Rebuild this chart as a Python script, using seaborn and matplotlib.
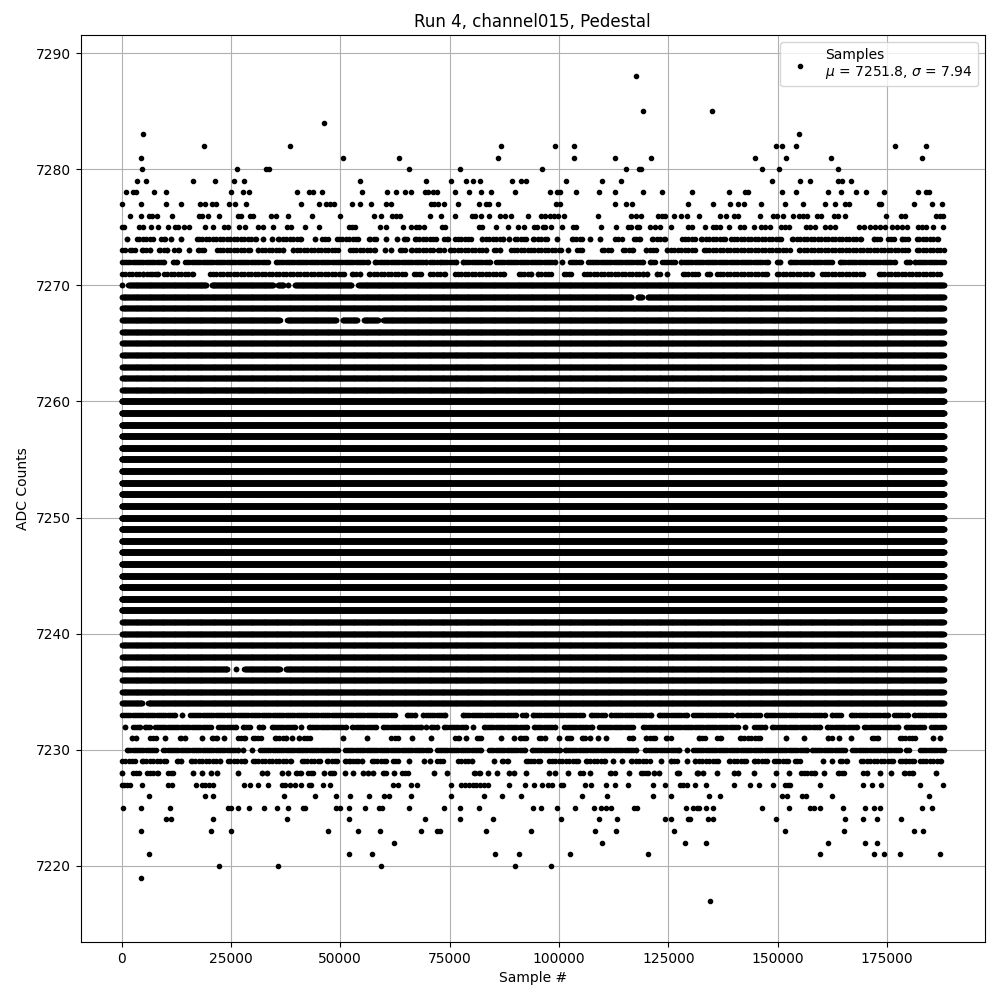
import numpy as np
import pandas as pd
import matplotlib
matplotlib.use("Agg")
import matplotlib.pyplot as plt
import seaborn as sns

# sparse levels: sample numbers in thousands, read point by point
hits_7217 = [134.6]
hits_7219 = [4.5]
hits_7220 = [22.3, 35.8, 59.4, 90, 98.2]
hits_7221 = [6.3, 52, 57.3, 85.4, 90.9, 102.6, 120.4, 159.6, 172.1, 174.2, 177.9, 187]
hits_7222 = [62.3, 109.9, 128.9, 133.7, 161.6, 169.9, 172.6]
hits_7223 = [4.5, 20.5, 25.1, 47.2, 54.1, 59.1, 68.5, 72.2, 72.8, 83.4, 93.7, 108.3, 113.1, 126.4,
             151.6, 165.1, 181.1, 183.3]
hits_7224 = [10.1, 11.4, 21, 37.9, 52, 69.4, 77.4, 85, 100.5, 109.2, 113.3, 124.3, 125.7, 129.6,
             130, 134, 135.3, 149.7, 165.3, 169.4, 172.8, 178.3]
hits_7225 = [0.4, 4.5, 11.1, 24.4, 24.9, 26.7, 29.2, 32.6, 35.6, 38.1, 41.5, 42, 49.1, 50, 52, 55.7,
             58.9, 59.6, 65.6, 73.8, 77.4, 81.6, 94.1, 96, 99.6, 103.7, 108, 109.7, 110.8, 112,
             117.2, 117.9, 129.1, 130.7, 131.6, 131.9, 133.7, 135.3, 146.5, 152.5, 157.3, 158.2,
             159.6, 164.9, 169.9, 172.1, 173.3, 183.1, 185.2]
hits_7226 = [6.3, 19.1, 21, 37.2, 44.3, 49.1, 52.3, 56.6, 60, 61.2, 66.2, 75.4, 82.9, 87, 91.4, 105.3,
             111, 121.6, 125.7, 134.2, 136.7, 151.1, 152.1, 155.5, 156.4, 162.5, 184.5]
hits_7227 = [0, 0.6, 1.2, 1.9, 4.7, 10.7, 11.6, 17.1, 18.4, 19.1, 20, 21, 28, 29.4, 31.2, 33.5, 36.6,
             37.4, 38.5, 39.6, 41.1, 42.8, 43.4, 46.1, 47.7, 62.1, 63.2, 66.2, 67.6, 75.2, 77.7, 78.6,
             79.5, 80.3, 81.1, 82, 82.9, 83.8, 88.5, 92.3, 94.4, 96.2, 97.6, 98.5, 100.5, 101, 106,
             107.4, 110.8, 112.9, 115.7, 121.6, 124.2, 127.7, 128.4, 129.2, 131.2, 133.7, 139.9,
             143.6, 145.8, 149, 151.7, 152.3, 152.9, 159.7, 169.6, 171.5, 173.7, 182.6, 187.7]
hits_7275 = [0, 0.6, 4, 5, 6.8, 8.4, 10.7, 12.2, 13, 14.3, 15.5, 19.1, 21, 23.5, 24.4, 26.9, 28.3, 31.2,
             32.4, 34.7, 37.9, 38.8, 42, 45.2, 52, 52.7, 53.4, 59.1, 60.5, 64.4, 66.2, 67.2, 68.1,
             69.1, 73.3, 74, 81.6, 82.5, 85.7, 88.4, 90.7, 92.1, 94.4, 95, 96.4, 96.9, 98.2, 100.8,
             103.3, 104, 109.7, 113.1, 115.8, 116.5, 117.9, 118.4, 120.9, 122, 123.2, 125.7, 129.6,
             130.5, 133.3, 135.3, 136, 136.9, 138.8, 141.4, 142.2, 144.5, 146.2, 147.1, 148.3, 150.7,
             151.7, 152.7, 156.5, 157.4, 158.6, 160.9, 161.9, 163, 168.7, 169.8, 171.1, 172.3, 173.4,
             174.6, 176.1, 177.2, 178.4, 179.5, 182, 183, 184, 185.6, 187.7]
hits_7276 = [2, 4.5, 6.3, 7, 8.2, 11.6, 17.8, 18.4, 19.8, 22.3, 26.7, 27.4, 29.4, 30.1, 34.2, 35.4, 38.1,
             43.6, 50, 57.8, 59.4, 61.9, 62.8, 63.6, 70.4, 73.1, 76.3, 80, 80.9, 82.2, 84, 86.4, 87.7,
             89.1, 93, 96, 96.9, 98, 98.9, 99.7, 101.2, 109, 116.5, 117.5, 118.8, 122.7, 123.6, 124.3,
             126.3, 128, 129.3, 132.1, 136.9, 138.1, 140.1, 141, 145.9, 149, 149.8, 151.3, 153.6, 154.8,
             155.9, 156.8, 159, 159.9, 162.8, 163.9, 165.3, 174.7, 178.1, 179, 186.1, 187, 187.9]
hits_7277 = [0.2, 4.5, 10.2, 13.6, 18, 19.1, 20.7, 21.6, 24.6, 26, 28.5, 41.1, 45.2, 46.8, 47.7, 48.6,
             52.7, 54.6, 57.1, 60.4, 61.7, 70.8, 71.5, 72.4, 73.6, 76.8, 81.6, 83.2, 83.9, 86.1, 99.4,
             100.2, 112.9, 115.4, 116.8, 129.6, 135.1, 139, 141, 142.2, 146.1, 151.6, 155.7, 160.9,
             163.2, 165.5, 166.2, 173.1, 173.7, 181.1, 185.2, 187.5]
hits_7278 = [1.1, 2.7, 3.4, 7.5, 10.2, 25.1, 27.8, 29.2, 40.2, 42.9, 43.8, 45.9, 55, 60.7, 62.8, 64.9, 66.2,
             69.4, 70.1, 71.3, 72, 76.3, 79.5, 82.2, 84.5, 90, 98, 99.6, 100.3, 104, 109.2, 112.9, 119.3,
             123.6, 130.5, 138.8, 142.6, 143.3, 151.1, 154.1, 161.4, 164.4, 168, 170.1, 174.4, 182,
             183.8, 184.5]
hits_7279 = [3.6, 5.6, 16.4, 21.4, 25.8, 28, 54.6, 69.7, 75.4, 78.8, 80.4, 82, 89.3, 91.2, 92.5, 101.7,
             109.9, 114.2, 148.8, 155.2, 157.5, 163.9, 164.8, 166.7]
hits_7280 = [4.7, 26.4, 32.9, 33.7, 65.6, 77.4, 96.2, 115.4, 118.4, 118.8, 146.5, 150.2, 163.9]
hits_7281 = [4.5, 50.7, 63.4, 86.1, 103.5, 112.9, 121.1, 144.7, 152, 162.1, 183.1]
hits_7282 = [18.9, 38.6, 86.8, 99.2, 103.5, 149.7, 151.1, 154.3, 176.9, 184]
hits_7283 = [4.95, 154.8]
hits_7284 = [46.3]
hits_7285 = [119.3, 134.9]
hits_7288 = [117.7]

runs_7228 = [(0.2, 0.2), (2.7, 4), (5.3, 8.8), (10.7, 11.8), (16.4, 16.4), (18.4, 18.4), (20.5, 20.5), (21.9, 21.9),
             (26.7, 26.7), (32.2, 32.2), (33.3, 33.3), (36.7, 36.7), (38.1, 38.1), (39.8, 41), (42.7, 43.8),
             (46.3, 46.3), (47.6, 48.6), (51.1, 51.1), (53, 53), (55.2, 55.2), (56.4, 56.4), (57.5, 57.5),
             (59.8, 60.4), (62.3, 62.3), (63.6, 65.9), (71.5, 71.5), (74.5, 74.5), (80.6, 81.9), (83.7, 83.7),
             (85.9, 85.9), (88.6, 88.6), (89.8, 89.8), (92.5, 92.5), (97.8, 97.8), (99.2, 99.2), (102.1, 102.1),
             (104.8, 105.6), (107.2, 107.2), (111.3, 113.2), (115.9, 115.9), (118.4, 120.8), (121.8, 121.8),
             (122.9, 122.9), (126.9, 127.5), (131.6, 131.6), (131.7, 131.7), (133, 133), (136.2, 136.2),
             (139.9, 139.9), (141, 141), (144.5, 144.5), (149.7, 149.7), (152.5, 152.5), (154.8, 159),
             (160.6, 160.6), (163.9, 165.2), (169.6, 170.5), (173.5, 173.5), (175.8, 175.8), (178.4, 181.3),
             (186.3, 186.3)]
runs_7229 = [(0, 3.4), (4.3, 10.7), (12.2, 14.1), (15.5, 22.9), (23.9, 28.6), (29.7, 39.2), (40.8, 45.7), (46.5, 49.8),
             (51.1, 52.2), (53, 54.1), (54.9, 54.9), (56.9, 61), (61.7, 63.6), (65.6, 65.6), (69.2, 69.2),
             (70.6, 70.6), (72.2, 73.4), (76.5, 80.6), (85.2, 85.2), (87, 88.4), (92, 96), (97.3, 104.8),
             (105.7, 110.9), (112.4, 112.4), (114.5, 114.5), (116.1, 121.2), (123.4, 123.4), (125.1, 127.5),
             (129.3, 129.3), (130.7, 136.9), (138.4, 143.1), (144.1, 147.9), (148.7, 152.9), (154, 155.1),
             (160.3, 160.3), (162.5, 162.5), (164.3, 165.8), (168.5, 176.9), (177.9, 179.4), (180.1, 181.2),
             (182.2, 187.9)]
runs_7230 = [(0.8, 8.4), (9.1, 27.1), (27.8, 27.8), (29.9, 29.9), (31.2, 49.9), (50.7, 70.9), (71.6, 82.7), (83.6, 92.6),
             (93.4, 100.6), (101, 118.1), (119.1, 128), (129.3, 129.3), (130.3, 157.1), (157.4, 165.8),
             (166.6, 178.4), (178.8, 180.4), (182.2, 188)]
runs_7231 = [(1.9, 3.8), (6.1, 8.4), (9.9, 9.9), (13, 15), (18.3, 18.3), (20.6, 21.7), (23.5, 23.5), (26.7, 28.2),
             (29.7, 32.4), (34.7, 38.1), (39, 39), (40.6, 40.6), (41.7, 43.1), (50.7, 50.7), (56.2, 56.2),
             (61.7, 63.2), (66.5, 66.5), (70.8, 70.8), (76.2, 77.2), (78.8, 78.8), (81.3, 82.2), (86.8, 86.8),
             (89.6, 89.6), (91.1, 92.5), (95.5, 96.9), (100, 100), (101.4, 103.3), (105.3, 106), (107.2, 107.2),
             (109, 109), (110.8, 110.8), (116.1, 117), (119.5, 122.5), (124.4, 125.5), (131.9, 133.4),
             (135.7, 137.6), (140.9, 146.4), (151.8, 151.8), (156.1, 156.1), (161.1, 162.8), (164.1, 164.1),
             (166.7, 166.7), (171.1, 173.4), (177.6, 181.8), (185.6, 185.6), (187, 187)]
runs_7232 = [(0.8, 0.8), (2.7, 4.2), (5.3, 6.5), (7.2, 20.9), (21.6, 26.7), (27.4, 29.7), (30.9, 32.8), (33.9, 40), (41.1, 41.1),
             (42.3, 51.8), (52.3, 58.7), (59.4, 69), (69.6, 69.6), (70.7, 72.2), (73.2, 79.3), (80.3, 80.3),
             (82.5, 93.2), (93.9, 99.5), (100.8, 108), (108.8, 117.4), (118.7, 141.4), (142.6, 142.6),
             (144.1, 147.5), (148.3, 160.1), (160.9, 168.5), (169.2, 178), (178.8, 183.9), (184.7, 188)]
runs_7233 = [(0, 12.6), (13.7, 13.7), (15.2, 62.9), (64.8, 67.5), (68.4, 74.5), (77.5, 90.7), (91.2, 93), (93.5, 105.9),
             (106.9, 110.9), (111.5, 121.6), (122.5, 129.8), (130.3, 139.9), (140.3, 146.4), (146.8, 161.2),
             (162, 164.9), (166.2, 175.7), (176.1, 180.3), (180.8, 188)]
runs_7234 = [(0, 5.1), (5.6, 188)]
runs_7237 = [(0, 24.6), (26.1, 26.1), (27.6, 36.6), (37.1, 188)]
runs_7267 = [(0, 36.6), (37.4, 49.5), (50.1, 54.3), (54.9, 59), (59.4, 188)]
runs_7269 = [(0, 117), (117.5, 119.4), (119.8, 188)]
runs_7270 = [(0, 0), (1.1, 19.8), (20.2, 35.1), (35.8, 37), (38.1, 38.1), (39.2, 53), (53.7, 188)]
runs_7271 = [(0, 5.3), (5.7, 6.9), (7.6, 8.4), (9.2, 16.8), (19.8, 51.4), (52.2, 54.9), (56, 65.2), (66.3, 69), (70.1, 74.3),
             (75.7, 87.9), (90.5, 94.1), (94.7, 98.7), (100.6, 103.3), (105.2, 119.7), (120.2, 120.2),
             (121.9, 123.5), (124.6, 124.6), (128, 132.3), (133.4, 135), (135.7, 147.9), (149.4, 158.2),
             (159.7, 170), (172.8, 187.5)]
runs_7272 = [(0, 10.1), (11.4, 13.2), (14.1, 33.9), (34.8, 56.8), (57.5, 70.1), (70.5, 72), (72.4, 77), (77.5, 84.6),
             (85.1, 99.5), (100.8, 100.8), (102.1, 105.4), (106.2, 119.7), (120.4, 122.3), (123.1, 126.9),
             (127.5, 148.3), (149.4, 151), (152.3, 162.8), (163.9, 177.2), (178.8, 180.7), (181, 188)]
runs_7273 = [(0, 0.8), (2, 3.1), (4.2, 6.9), (8, 10.9), (12, 13.2), (15.5, 15.5), (17.1, 19.4), (21.3, 29.7), (30.7, 37.3),
             (38.7, 49.9), (51.8, 58.3), (60.2, 60.2), (61.7, 61.7), (63.6, 64.8), (65.8, 71.6), (72.4, 73.6),
             (74.7, 83.8), (84.6, 86.9), (88.6, 101), (102, 102), (103.7, 105.7), (109.4, 112.4), (114.1, 117.4),
             (119.4, 122.7), (124.2, 131.5), (132.7, 153.2), (154.4, 180.3), (181.4, 188)]
runs_7274 = [(1.3, 1.3), (3, 7.6), (8.6, 10.3), (11.4, 11.4), (13.6, 13.6), (16.8, 31.2), (32.4, 32.4), (34.4, 34.4),
             (35.4, 41.5), (44.3, 44.3), (45.3, 47.6), (48.8, 54.5), (56, 58.7), (60.4, 60.4), (62.9, 62.9), (64, 65.6),
             (66.7, 72.4), (73.6, 74.7), (75.8, 80.4), (81.9, 87.7), (88.6, 88.6), (89.6, 93), (93.7, 97.6),
             (99.6, 99.6), (102.5, 105.6), (107.1, 107.1), (109.4, 109.4), (112.8, 114.3), (116.6, 118.9),
             (120.8, 124.6), (127.7, 131.5), (132.1, 138.4), (138.8, 151.3), (152.9, 169.6), (171.5, 173.8),
             (175.3, 176.6), (177.9, 180.3), (181.4, 187.2)]

# levels hit all along the run: thin rows at the edges, heavy rows around the mean
thin_levels = [7235, 7236, 7238, 7239, 7240, 7241, 7261, 7262, 7263, 7264, 7265, 7266, 7268]
heavy_levels = [7242, 7243, 7244, 7245, 7246, 7247, 7248, 7249, 7250, 7251, 7252, 7253, 7254, 7255, 7256,
                7257, 7258, 7259, 7260]
busy_levels = [7230, 7232, 7233, 7272]

# x positions available to the rows, by how often the level comes up
coarse_samples = np.arange(0, 188001, 800)
busy_samples = np.arange(0, 188001, 500)
thin_samples = np.arange(0, 188001, 110)
heavy_samples = np.arange(0, 188001, 40)
marker_pad = 450  # stretches were read edge to edge, so pull their ends in by about a dot radius

sparse = [(7217, hits_7217), (7219, hits_7219), (7220, hits_7220), (7221, hits_7221), (7222, hits_7222),
          (7223, hits_7223), (7224, hits_7224), (7225, hits_7225), (7226, hits_7226), (7227, hits_7227),
          (7275, hits_7275), (7276, hits_7276), (7277, hits_7277), (7278, hits_7278), (7279, hits_7279),
          (7280, hits_7280), (7281, hits_7281), (7282, hits_7282), (7283, hits_7283), (7284, hits_7284),
          (7285, hits_7285), (7288, hits_7288)]
crowded = [(7228, runs_7228), (7229, runs_7229), (7230, runs_7230), (7231, runs_7231), (7232, runs_7232),
           (7233, runs_7233), (7234, runs_7234), (7237, runs_7237), (7267, runs_7267), (7269, runs_7269),
           (7270, runs_7270), (7271, runs_7271), (7272, runs_7272), (7273, runs_7273), (7274, runs_7274)]

xs = []
ys = []
for level, hits in sparse:
    xs.append(np.array(hits) * 1000)
    ys.append(np.full(len(hits), level))
for level, runs in crowded:
    if len(runs) < 8:
        grid = thin_samples
    elif level in busy_levels:
        grid = busy_samples
    else:
        grid = coarse_samples
    for a, b in runs:
        a, b = a * 1000, b * 1000
        if b - a > 1500:
            if a > 0:
                a += marker_pad
            if b < 188000:
                b -= marker_pad
        pts = np.concatenate([[a, b], grid[(grid > a) & (grid < b)]])
        xs.append(pts)
        ys.append(np.full(len(pts), level))
for level in thin_levels:
    xs.append(thin_samples)
    ys.append(np.full(len(thin_samples), level))
for level in heavy_levels:
    xs.append(heavy_samples)
    ys.append(np.full(len(heavy_samples), level))

df = pd.DataFrame({"sample": np.concatenate(xs), "adc": np.concatenate(ys)})

fig, ax = plt.subplots(figsize=(10, 10))
sns.scatterplot(data=df, x="sample", y="adc", color="k", marker=".", s=36, linewidth=1, edgecolor="k",
                label="Samples\n$\\mu$ = 7251.8, $\\sigma$ = 7.94", zorder=2, ax=ax)
ax.set_title("Run 4, channel015, Pedestal")
ax.set_xlabel("Sample #")
ax.set_ylabel("ADC Counts")
ax.grid(True)
ax.legend(loc="upper right")
fig.subplots_adjust(left=0.0805, right=0.985, top=0.965, bottom=0.058)
plt.savefig("out.png", dpi=100)
